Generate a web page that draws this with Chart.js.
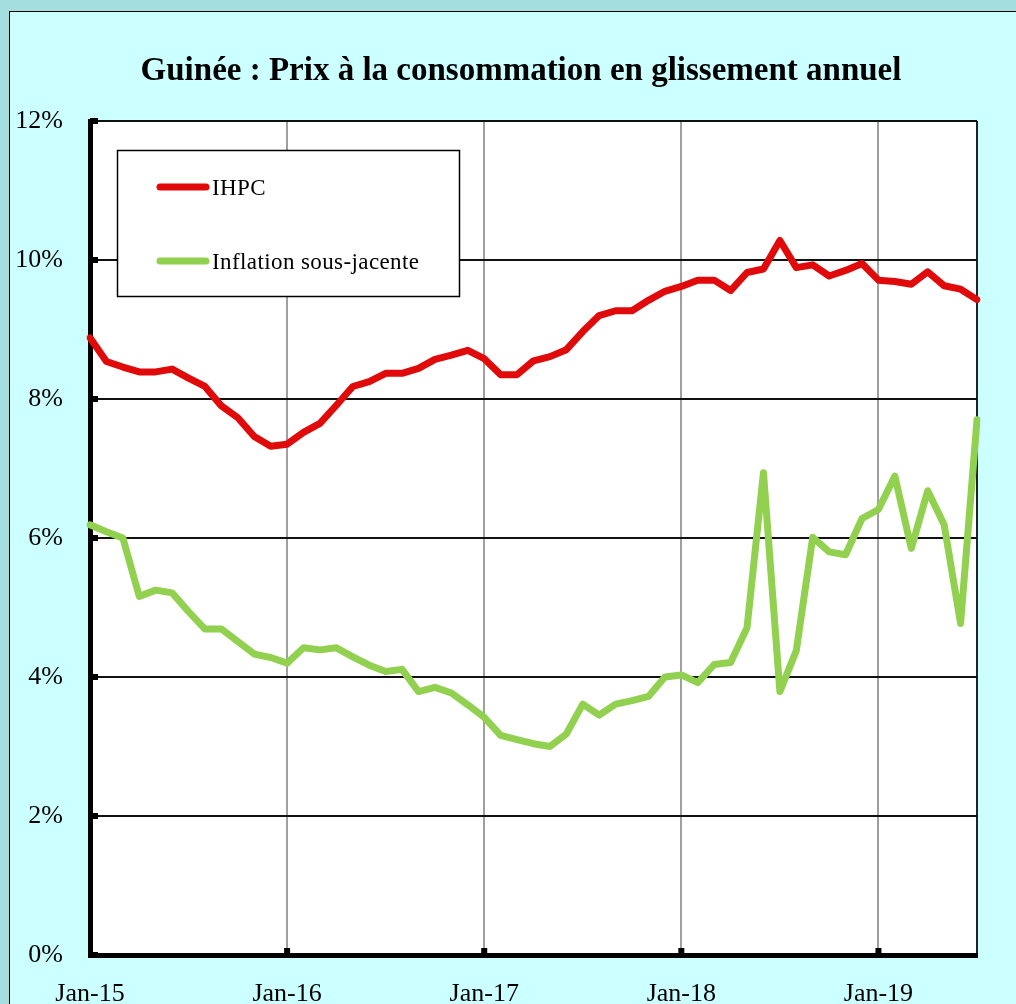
<!DOCTYPE html>
<html>
<head>
<meta charset="utf-8">
<script src="https://cdn.jsdelivr.net/npm/chart.js@4.4.1/dist/chart.umd.min.js"></script>
<style>
  html, body { margin: 0; padding: 0; background: #a5dede; overflow: hidden; width: 1016px; height: 1004px; }
  #frame { position: absolute; left: 9px; top: 11px; width: 1100px; height: 1100px; border: 1.5px solid #000; background: #ccffff; }
  #c { position: absolute; left: 0; top: 0; }
</style>
</head>
<body>
<div id="frame"></div>
<canvas id="c" width="1016" height="1004"></canvas>
<script>
const titleText = 'Guinée : Prix à la consommation en glissement annuel';
const monthNames = ['Jan','Feb','Mar','Apr','May','Jun','Jul','Aug','Sep','Oct','Nov','Dec'];
const yearNames = ['15','16','17','18','19'];
const seriesNames = ['IHPC', 'Inflation sous-jacente'];

// IHPC, Jan-15 .. Jul-19 (%)
const ihpc = [
  8.88, 8.54, 8.46, 8.39, 8.39, 8.43, 8.30, 8.18, 7.90, 7.73, 7.46, 7.32,
  7.35, 7.52, 7.65, 7.91, 8.18, 8.25, 8.37, 8.37, 8.44, 8.57, 8.63, 8.70,
  8.58, 8.35, 8.35, 8.55, 8.61, 8.71, 8.97, 9.20, 9.27, 9.27, 9.42, 9.55,
  9.62, 9.71, 9.71, 9.56, 9.82, 9.87, 10.28, 9.89, 9.93, 9.77, 9.85, 9.95,
  9.71, 9.69, 9.65, 9.83, 9.63, 9.58, 9.43
];
// Inflation sous-jacente, Jan-15 .. Jul-19 (%)
const sousJacente = [
  6.19, 6.09, 6.00, 5.16, 5.25, 5.21, 4.94, 4.69, 4.69, 4.51, 4.33, 4.28,
  4.20, 4.42, 4.39, 4.42, 4.29, 4.17, 4.08, 4.11, 3.79, 3.85, 3.77, 3.60,
  3.42, 3.16, 3.10, 3.04, 3.00, 3.18, 3.61, 3.45, 3.61, 3.66, 3.72, 4.00,
  4.03, 3.92, 4.18, 4.21, 4.71, 6.94, 3.79, 4.38, 6.01, 5.80, 5.76, 6.28,
  6.41, 6.89, 5.85, 6.68, 6.19, 4.77, 7.70
];

const categories = [];
yearNames.forEach(y => monthNames.forEach(m => categories.push(m + '-' + y)));
categories.length = ihpc.length;

const RED = '#e00a0a';
const GREEN = '#92d050';
const SERIF = '"Liberation Serif", "DejaVu Serif", serif';

const plotBg = {
  id: 'plotBg',
  afterLayout(chart) {
    // centre the title over the span that starts at the tick labels' column
    if (chart.titleBlock) chart.titleBlock.left = 65;
  },
  beforeDraw(chart) {
    const a = chart.chartArea, ctx = chart.ctx;
    ctx.save();
    ctx.fillStyle = '#ffffff';
    ctx.fillRect(a.left, a.top, a.right - a.left, a.bottom - a.top);
    ctx.restore();
  }
};

const innerTicks = {
  id: 'innerTicks',
  afterDatasetsDraw(chart) {
    const ctx = chart.ctx, xs = chart.scales.x, ys = chart.scales.y;
    const a = chart.chartArea;
    ctx.save();
    ctx.fillStyle = '#000';
    ys.ticks.forEach((t, i) => {
      const py = ys.getPixelForTick(i);
      ctx.fillRect(a.left, py - 3, 8, 6);
    });
    xs.ticks.forEach((t, i) => {
      if (i % 12 === 0 && i > 0) {
        const px = xs.getPixelForTick(i);
        ctx.fillRect(px - 3, a.bottom - 7, 6, 7);
      }
    });
    ctx.restore();
  }
};

const boxLegend = {
  id: 'boxLegend',
  afterDraw(chart) {
    const ctx = chart.ctx;
    ctx.save();
    ctx.fillStyle = '#ffffff';
    ctx.fillRect(117, 150, 343, 147);
    ctx.strokeStyle = '#000';
    ctx.lineWidth = 1.5;
    ctx.strokeRect(117.5, 150.5, 342, 146);
    const rows = [187, 261];
    chart.data.datasets.forEach((ds, i) => {
      ctx.strokeStyle = ds.borderColor;
      ctx.lineWidth = 7;
      ctx.lineCap = 'round';
      ctx.beginPath();
      ctx.moveTo(160, rows[i]);
      ctx.lineTo(206, rows[i]);
      ctx.stroke();
      ctx.fillStyle = '#000';
      ctx.font = '23px ' + SERIF;
      ctx.letterSpacing = '0.4px';
      ctx.textBaseline = 'alphabetic';
      ctx.fillText(ds.label, 212, rows[i] + 8);
    });
    ctx.restore();
  }
};

new Chart(document.getElementById('c'), {
  type: 'line',
  data: {
    labels: categories,
    datasets: [
      { label: seriesNames[0], data: ihpc, borderColor: RED, backgroundColor: RED, borderWidth: 7,
        pointRadius: 0, tension: 0, borderJoinStyle: 'round', borderCapStyle: 'round' },
      { label: seriesNames[1], data: sousJacente, borderColor: GREEN, backgroundColor: GREEN, borderWidth: 7,
        pointRadius: 0, tension: 0, borderJoinStyle: 'round', borderCapStyle: 'round' }
    ]
  },
  options: {
    responsive: false,
    animation: false,
    layout: { padding: { top: 36, left: 0, right: 39, bottom: 0 } },
    plugins: {
      legend: { display: false },
      tooltip: { enabled: false },
      title: {
        display: true,
        text: titleText,
        color: '#000',
        font: { family: SERIF, size: 33, weight: 'bold' },
        padding: { top: 16, bottom: 29.4 }
      }
    },
    scales: {
      x: {
        type: 'category',
        offset: false,
        afterFit(s) { s.height = 49; },
        grid: {
          drawTicks: false,
          color: (c) => c.index % 12 === 0 ? '#a0a0a0' : (c.index === ihpc.length - 1 ? '#222' : 'rgba(0,0,0,0)'),
          lineWidth: 2
        },
        border: { color: '#000', width: 5 },
        ticks: {
          autoSkip: false,
          maxRotation: 0,
          minRotation: 0,
          padding: 24,
          color: '#000',
          font: { family: SERIF, size: 26 },
          callback(v, i) { const l = this.getLabelForValue(v); return l.startsWith('Jan') ? l : ''; }
        }
      },
      y: {
        min: 0,
        max: 12,
        afterFit(s) { s.width = 90; },
        grid: { drawTicks: false, color: '#111', lineWidth: 2 },
        border: { color: '#000', width: 5 },
        ticks: {
          stepSize: 2,
          padding: 27,
          color: '#000',
          font: { family: SERIF, size: 26 },
          callback: (v) => v + '%'
        }
      }
    }
  },
  plugins: [plotBg, innerTicks, boxLegend]
});
</script>
</body>
</html>
